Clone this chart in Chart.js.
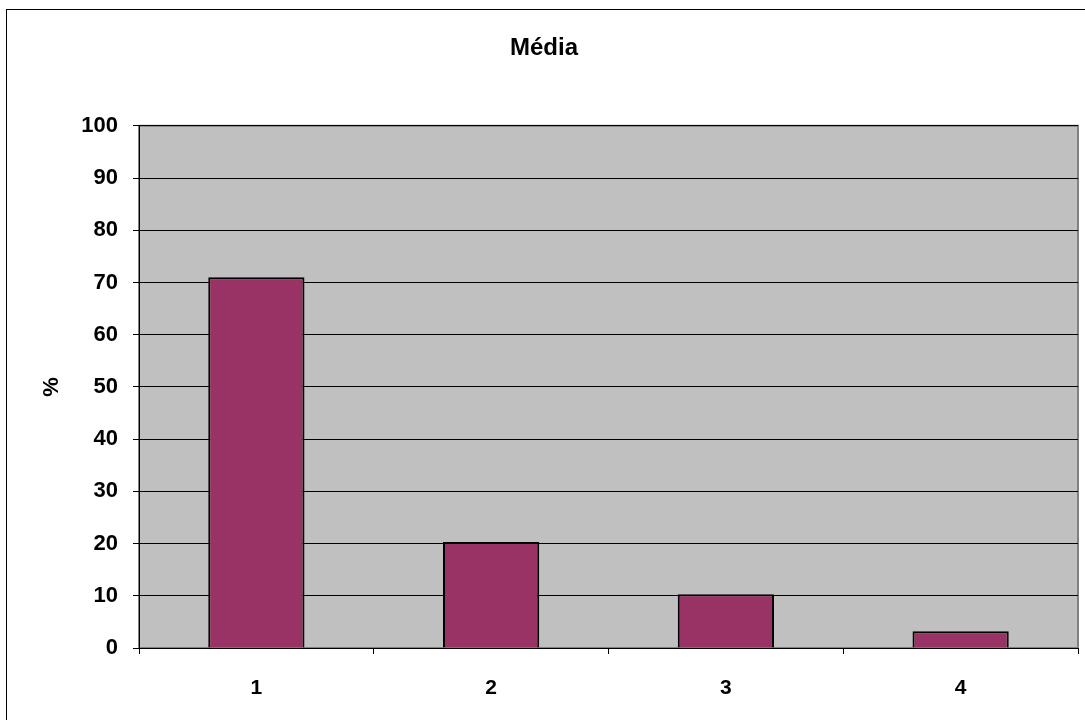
<!DOCTYPE html>
<html>
<head>
<meta charset="utf-8">
<script src="https://cdn.jsdelivr.net/npm/chart.js@4/dist/chart.umd.min.js"></script>
<style>
    html, body { margin: 0; padding: 0; background: #fff; }
    #wrap { width: 1085px; height: 720px; }
</style>
</head>
<body>
<div id="wrap"><canvas id="media-chart" width="1085" height="720"></canvas></div>
<script>
const categories = ['1', '2', '3', '4'];
const mediaValues = [71, 20.3, 10.3, 3.2];
const yTicks = [0, 10, 20, 30, 40, 50, 60, 70, 80, 90, 100];

const FONT = "Arial, 'Liberation Sans', sans-serif";

// grey plot area + outer frame, like the old spreadsheet chart
const frame = {
    id: 'frame',
    beforeDraw: function (chart) {
        const ctx = chart.ctx;
        const a = chart.chartArea;
        ctx.save();
        ctx.fillStyle = '#fff';
        ctx.fillRect(0, 0, chart.width, chart.height);
        ctx.strokeStyle = '#000';
        ctx.lineWidth = 1;
        ctx.strokeRect(6.5, 9.5, chart.width + 10, chart.height + 10);
        ctx.fillStyle = '#c0c0c0';
        ctx.fillRect(a.left, a.top, a.right - a.left, a.bottom - a.top);
        ctx.strokeStyle = '#808080';
        ctx.lineWidth = 2;
        ctx.strokeRect(a.left, a.top, a.right - a.left, a.bottom - a.top);
        ctx.restore();
    }
};

const ctx = document.getElementById('media-chart').getContext('2d');
new Chart(ctx, {
    type: 'bar',
    data: {
        labels: categories,
        datasets: [{
            label: 'Média',
            data: mediaValues,
            backgroundColor: '#993366',
            borderColor: '#000',
            borderWidth: 2,
            categoryPercentage: 1,
            barPercentage: 0.41
        }]
    },
    options: {
        responsive: false,
        animation: false,
        layout: { padding: { top: 10, left: 10, right: 7, bottom: 4 } },
        plugins: {
            legend: { display: false },
            tooltip: { enabled: false },
            title: {
                display: true,
                text: 'Média',
                color: '#000',
                font: { family: FONT, size: 24, weight: 'bold' },
                padding: { top: 24, bottom: 63 }
            }
        },
        scales: {
            x: {
                offset: true,
                grid: {
                    offset: true,
                    drawOnChartArea: false,
                    color: '#000',
                    tickLength: 6
                },
                border: { color: '#000', width: 1 },
                ticks: {
                    color: '#000',
                    padding: 22,
                    font: { family: FONT, size: 21, weight: 'bold' }
                },
                afterFit: function (scale) { scale.height = 68; }
            },
            y: {
                min: 0,
                max: 100,
                afterBuildTicks: function (scale) {
                    scale.ticks = yTicks.map(v => ({ value: v }));
                },
                grid: { color: '#000', lineWidth: 1, tickLength: 6 },
                border: { color: '#000', width: 1 },
                ticks: {
                    color: '#000',
                    padding: 15,
                    font: { family: FONT, size: 22, weight: 'bold' }
                },
                title: {
                    display: true,
                    text: '%',
                    color: '#000',
                    font: { family: FONT, size: 22, weight: 'bold' },
                    padding: { top: 29, bottom: 0 }
                },
                afterFit: function (scale) { scale.width = 129; }
            }
        }
    },
    plugins: [frame]
});
</script>
</body>
</html>
